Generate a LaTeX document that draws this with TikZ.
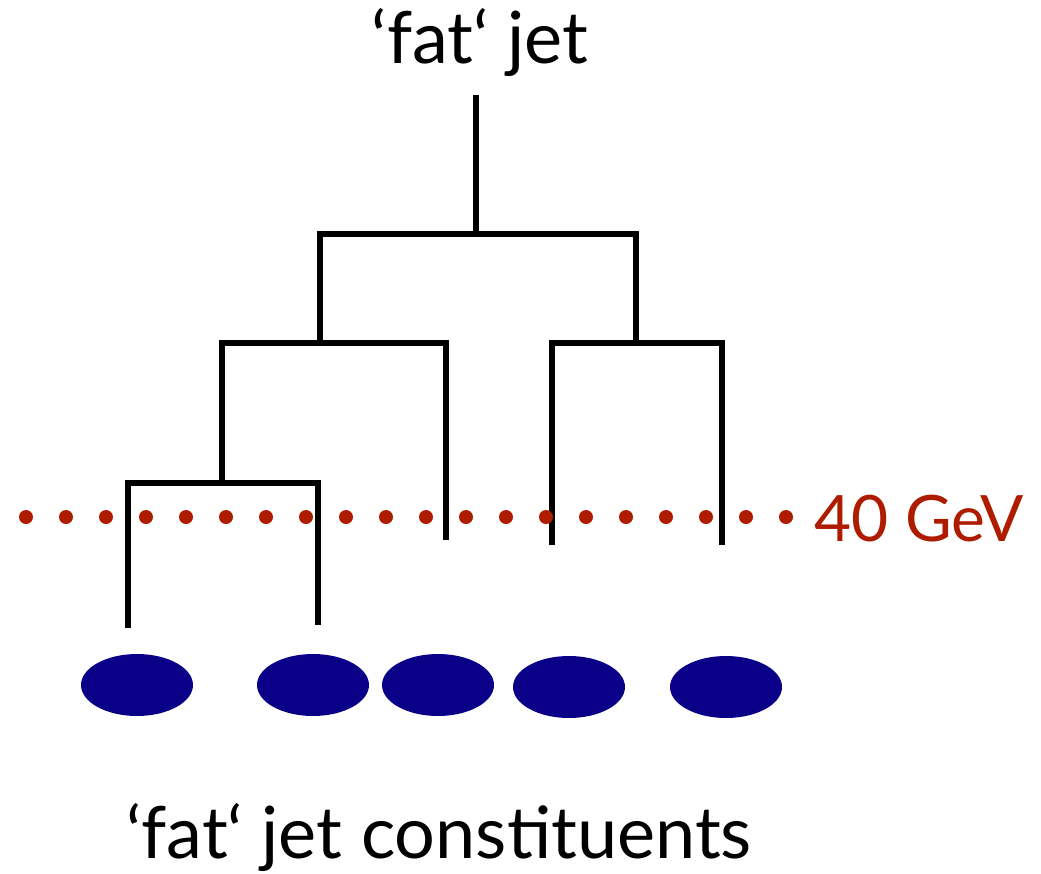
\documentclass[tikz,border=0pt]{standalone}
\usepackage{fontspec}
\setmainfont{Lato}
\usetikzlibrary{shapes.geometric}
\definecolor{cutred}{HTML}{AE1C00}
\definecolor{constit}{HTML}{0A0088}
\begin{document}
\begin{tikzpicture}[x=0.5pt,y=-0.5pt,
  branch/.style={line width=3.3pt, line join=miter},
  constituent/.style={ellipse, fill=constit, minimum width=56pt, minimum height=31pt, inner sep=0pt},
  label/.style={font=\fontsize{36}{40}\selectfont, inner sep=0pt, anchor=base},
  cutline/.style={cutred, line width=7pt, line cap=round, dash pattern=on 0pt off 20pt}]
\useasboundingbox (0,0) rectangle (1041,874);

% jet constituents
\node[constituent] (c1) at (137,685) {};
\node[constituent] (c2) at (313,685) {};
\node[constituent] (c3) at (438,685) {};
\node[constituent] (c4) at (569,687) {};
\node[constituent] (c5) at (726,687) {};

% leg ends and merge points of the clustering tree
\coordinate (l1) at (128,628);
\coordinate (l2) at (318,625);
\coordinate (l3) at (446,540);
\coordinate (l4) at (552,545);
\coordinate (l5) at (722,545);
\coordinate (j12) at (222,483);
\coordinate (j123) at (320,343);
\coordinate (j45) at (636,343);
\coordinate (root) at (476,234);
\coordinate (top) at (476,95);

\draw[branch] (l1) |- (j12) -| (l2);
\draw[branch] (j12) |- (j123) -| (l3);
\draw[branch] (l4) |- (j45) -| (l5);
\draw[branch] (j123) |- (root) -| (j45);
\draw[branch] (root) -- (top);

% 40 GeV cut
\coordinate (cutL) at (26,517);
\coordinate (cutR) at (787,517);
\draw[cutline] (cutL) -- (cutR);
\node[label, font=\fontsize{32}{36}\selectfont, text=cutred, anchor=base west] (cut) at (814,541) {40 GeV};

% captions
\node[label] (fat) at (480,63) {‘fat‘ jet};
\node[label] (cons) at (439,858) {‘fat‘ jet constituents};
\end{tikzpicture}
\end{document}
